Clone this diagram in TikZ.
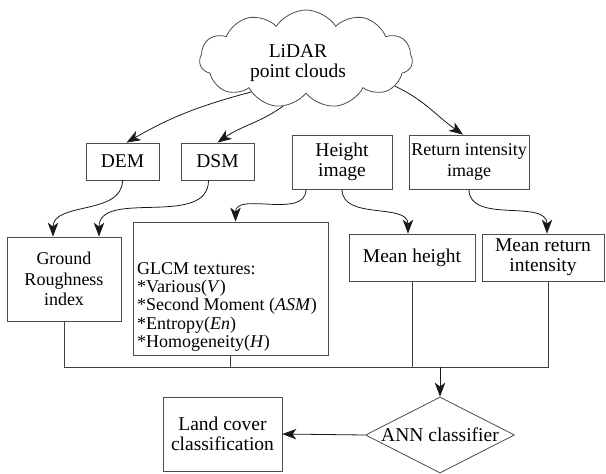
\documentclass[tikz,border=0pt]{standalone}
\usepackage{fontspec}
\setmainfont{Liberation Serif}
\usetikzlibrary{shapes.symbols,shapes.geometric,arrows.meta}
\begin{document}
\begin{tikzpicture}[x=1pt,y=1pt,
  box/.style={draw=black!70, line width=0.8pt, rectangle, inner sep=0pt, align=center, font=\fontsize{19.5}{20}\selectfont},
  smallbox/.style={box, font=\fontsize{18}{20.5}\selectfont},
  arr/.style={-{Stealth[length=14pt,width=10.5pt,inset=4pt]}, line width=0.8pt, draw=black!90},
  link/.style={line width=0.8pt, draw=black!75},
  txt/.style={font=\fontsize{19.5}{19.5}\selectfont, align=center, inner sep=0pt}]
\useasboundingbox (0,0) rectangle (606,-474);
% cloud
\node[cloud, cloud puffs=11, cloud puff arc=115, cloud ignores aspect, draw=black!70, line width=0.8pt,
      minimum width=213pt, minimum height=98pt, inner sep=0pt] (cloud) at (306,-59) {};
\node[txt] (lidar) at (298,-63) {LiDAR\\point clouds};
% first row
\node[box, minimum width=73pt, minimum height=37pt] (dem) at (122.5,-161.5) {DEM};
\node[box, minimum width=73pt, minimum height=37pt] (dsm) at (217.5,-161.5) {DSM};
\node[box, minimum width=100pt, minimum height=54pt] (hi) at (342,-162) {Height\\image};
\node[smallbox, minimum width=120pt, minimum height=54pt] (ri) at (469,-162) {Return intensity\\image};
% second row
\node[smallbox, minimum width=114pt, minimum height=84pt] (gr) at (64,-279) {Ground\\Roughness\\index};
\node[box, minimum width=195pt, minimum height=133pt] (glcm) at (230.5,-288.5) {};
\node[inner sep=0pt, align=left, anchor=north west, font=\fontsize{18}{18.3}\selectfont] (glcmtext) at (137,-262)
  {GLCM textures:\\*Various(\textit{V})\\*Second Moment (\textit{ASM})\\*Entropy(\textit{En})\\*Homogeneity(\textit{H})};
\node[box, minimum width=126pt, minimum height=47pt] (mh) at (412,-257.5) {Mean height};
\node[box, minimum width=122pt, minimum height=47pt] (mr) at (543,-257.5) {Mean return\\intensity};
% bottom row
\node[box, minimum width=119pt, minimum height=74pt] (lc) at (222.5,-434) {Land cover\\classification};
\node[diamond, draw=black!70, line width=0.8pt, aspect=1.96, inner sep=-1pt, minimum width=149pt, minimum height=76pt,
      font=\fontsize{19.5}{20}\selectfont] (ann) at (440,-435) {ANN classifier};
% connectors from cloud
\draw[arr] (cloud.211) to[out=195,in=30] ([xshift=4pt]dem.north);
\draw[arr] (cloud.244) to[out=215,in=35] (dsm.north);
\draw[arr] (cloud.343) to[out=-25,in=145] ([xshift=-6pt]ri.north);
% first row to second row
\draw[arr] (dem.south) to[out=-90,in=90] ([xshift=-11pt]gr.north);
\draw[arr] ([xshift=-9pt]dsm.south) to[out=-90,in=90] ([xshift=35pt]gr.north);
\draw[arr] ([xshift=-36pt]hi.south) to[out=-90,in=90] ([xshift=5pt]glcm.north);
\draw[arr] (hi.south) to[out=-90,in=90] ([xshift=-4pt]mh.north);
\draw[arr] (ri.south) to[out=-90,in=90] ([xshift=4pt]mr.north);
% bus
\coordinate (bus) at (ann.north |- 0,-367);
\draw[link] (gr.south) |- ([xshift=5pt]mr.south |- bus) -- ([xshift=5pt]mr.south);
\draw[link] (glcm.south) -- (glcm.south |- bus);
\draw[link] (mh.south) -- (mh.south |- bus);
\draw[arr] (bus) -- (ann.north);
\draw[arr] (ann.west) -- (lc.east);
\end{tikzpicture}
\end{document}
